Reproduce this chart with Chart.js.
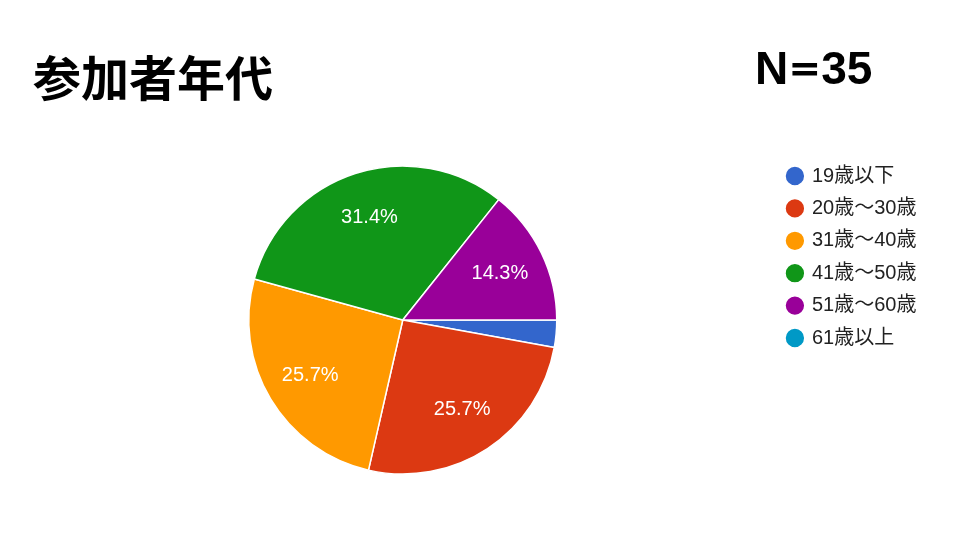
<!DOCTYPE html>
<html>
<head>
<meta charset="utf-8">
<script src="https://cdn.jsdelivr.net/npm/chart.js@4.4.1/dist/chart.umd.min.js"></script>
<style>
  html, body { margin: 0; padding: 0; background: #fff; }
  #wrap { position: relative; width: 960px; height: 540px; overflow: hidden; }
  #pie { position: absolute; left: 0; top: 0; }
  .title { position: absolute; font-weight: 700; color: #000; line-height: 1; white-space: nowrap; }
  #main-title { left: 33px; top: 51px; font-size: 48px; font-family: "Noto Sans CJK JP", sans-serif; }
  #count { left: 755px; top: 45px; font-size: 46px; font-family: "Liberation Sans", "Noto Sans CJK JP", sans-serif; }
  #count .eq { font-size: 33px; line-height: 0; font-family: "Noto Sans CJK JP", sans-serif;
               -webkit-text-stroke: 1.2px #000; position: relative; top: -2px; }
</style>
</head>
<body>
<div id="wrap">
  <canvas id="pie" width="960" height="540"></canvas>
  <div class="title" id="main-title">参加者年代</div>
  <div class="title" id="count">N<span class="eq">＝</span>35</div>
</div>
<script>
// age groups and number of answers (N = 35)
const categories = ["19歳以下", "20歳～30歳", "31歳～40歳", "41歳～50歳", "51歳～60歳", "61歳以上"];
const counts = [1, 9, 9, 11, 5, 0];
const sliceColors = ["#3366cc", "#dc3912", "#ff9900", "#109618", "#990099", "#0099c6"];

// white percent text inside each slice (small slices stay empty)
const sliceLabels = {
    id: "sliceLabels",
    afterDatasetsDraw(chart) {
        const ctx = chart.ctx;
        const meta = chart.getDatasetMeta(0);
        const total = counts.reduce((a, b) => a + b, 0);
        ctx.save();
        ctx.fillStyle = "#fff";
        ctx.font = '20px "Liberation Sans", Arial, sans-serif';
        ctx.textAlign = "center";
        ctx.textBaseline = "middle";
        meta.data.forEach((arc, i) => {
            const pct = counts[i] / total * 100;
            if (pct < 5) return;
            const mid = (arc.startAngle + arc.endAngle) / 2;
            const r = arc.outerRadius * 0.7;
            ctx.fillText(pct.toFixed(1) + "%", arc.x + Math.cos(mid) * r, arc.y + Math.sin(mid) * r);
        });
        ctx.restore();
    }
};

new Chart(document.getElementById("pie"), {
    type: "pie",
    data: {
        labels: categories,
        datasets: [{
            data: counts,
            backgroundColor: sliceColors,
            borderColor: "#fff",
            borderWidth: 1.5,
            radius: 154
        }]
    },
    options: {
        responsive: false,
        animation: false,
        rotation: 90,
        layout: { padding: { top: 153.6, bottom: 53.6, left: 30, right: 33.6 } },
        plugins: {
            legend: {
                position: "right",
                align: "start",
                labels: {
                    usePointStyle: true,
                    pointStyle: "circle",
                    boxWidth: 14,
                    boxHeight: 14,
                    padding: 12.4,
                    color: "#222",
                    font: { family: '"Liberation Sans", "Noto Sans CJK JP", sans-serif', size: 20 }
                }
            },
            tooltip: { enabled: false }
        }
    },
    plugins: [sliceLabels]
});
</script>
</body>
</html>
